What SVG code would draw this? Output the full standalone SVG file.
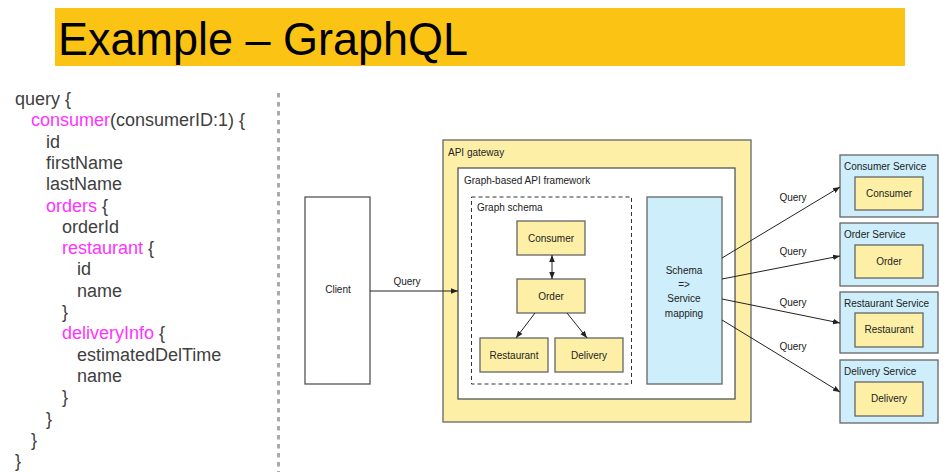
<svg xmlns="http://www.w3.org/2000/svg" width="947" height="472" viewBox="0 0 947 472">
<defs>
<marker id="ah" viewBox="0 0 10 10" refX="10" refY="5" markerWidth="7" markerHeight="7" orient="auto-start-reverse" markerUnits="userSpaceOnUse">
<path d="M0,1 L10,5 L0,9 z" fill="#222"/>
</marker>
</defs>
<style>
.code{font-family:"Liberation Sans",Arial,sans-serif;font-size:18px;fill:#404040}
.mg{fill:#ff33ff}
.lbl{font-family:"Liberation Sans",Arial,sans-serif;font-size:10px;fill:#222}
.c{text-anchor:middle}
.yel{fill:#fdf0a6;stroke:#666;stroke-width:1.3}
.blu{fill:#cdeefa;stroke:#666;stroke-width:1.3}
.wht{fill:#fff;stroke:#555;stroke-width:1.3}
.ln{stroke:#222;stroke-width:1;fill:none;marker-end:url(#ah)}
</style>
<rect width="947" height="472" fill="#fff"/>
<g id="title">
<rect x="55" y="8" width="850" height="58" fill="#fbc314"/>
<text x="58" y="55" font-family="'Liberation Sans',Arial,sans-serif" font-size="46" fill="#000" textLength="410" lengthAdjust="spacingAndGlyphs">Example – GraphQL</text>
</g>
<g id="code" class="code">
<text x="15" y="105">query {</text>
<text x="31" y="126.3"><tspan class="mg">consumer</tspan>(consumerID:1) {</text>
<text x="46" y="147.6">id</text>
<text x="46" y="168.9">firstName</text>
<text x="46" y="190.2">lastName</text>
<text x="46" y="211.5"><tspan class="mg">orders</tspan> {</text>
<text x="62" y="232.8">orderId</text>
<text x="62" y="254.1"><tspan class="mg">restaurant</tspan> {</text>
<text x="77" y="275.4">id</text>
<text x="77" y="296.7">name</text>
<text x="62" y="318">}</text>
<text x="62" y="339.3"><tspan class="mg">deliveryInfo</tspan> {</text>
<text x="77" y="360.6">estimatedDelTime</text>
<text x="77" y="381.9">name</text>
<text x="62" y="403.2">}</text>
<text x="46" y="424.5">}</text>
<text x="31" y="445.8">}</text>
<text x="15" y="467">}</text>
</g>
<line x1="278.5" y1="93" x2="278.5" y2="472" stroke="#aaa" stroke-width="3" stroke-dasharray="4.5 4.5"/>
<g id="client">
<rect x="305" y="197" width="65" height="187" class="wht"/>
<text x="338" y="293" class="lbl c">Client</text>
</g>
<g id="api-gateway">
<rect x="443" y="140" width="308" height="282" class="yel"/>
<text x="448" y="156" class="lbl">API gateway</text>
</g>
<g id="graph-framework">
<rect x="458" y="168" width="277" height="231" class="wht"/>
<text x="464" y="184" class="lbl">Graph-based API framework</text>
</g>
<g id="graph-schema">
<rect x="471.5" y="197" width="160" height="187" fill="none" stroke="#333" stroke-width="1" stroke-dasharray="4 3"/>
<text x="477" y="211" class="lbl">Graph schema</text>
</g>
<g id="schema-consumer">
<rect x="517" y="221" width="68" height="34" class="yel"/>
<text x="551" y="241.5" class="lbl c">Consumer</text>
</g>
<g id="schema-order">
<rect x="517" y="279" width="68" height="34" class="yel"/>
<text x="551" y="299.5" class="lbl c">Order</text>
</g>
<g id="schema-restaurant">
<rect x="480" y="338" width="68" height="34" class="yel"/>
<text x="514" y="358.5" class="lbl c">Restaurant</text>
</g>
<g id="schema-delivery">
<rect x="555" y="338" width="68" height="34" class="yel"/>
<text x="589" y="358.5" class="lbl c">Delivery</text>
</g>
<g id="mapping">
<rect x="647" y="197" width="75" height="187" class="blu"/>
<text x="684" y="274" class="lbl c">Schema</text>
<text x="684" y="288" class="lbl c">=&gt;</text>
<text x="684" y="302" class="lbl c">Service</text>
<text x="684" y="317" class="lbl c">mapping</text>
</g>
<g id="consumer-service">
<rect x="840" y="155" width="98" height="62" class="blu"/>
<text x="844" y="170" class="lbl">Consumer Service</text>
<rect x="855" y="177" width="68" height="33" class="yel"/>
<text x="889" y="197" class="lbl c">Consumer</text>
</g>
<g id="order-service">
<rect x="840" y="223" width="98" height="63" class="blu"/>
<text x="844" y="238" class="lbl">Order Service</text>
<rect x="855" y="245" width="68" height="33" class="yel"/>
<text x="889" y="265" class="lbl c">Order</text>
</g>
<g id="restaurant-service">
<rect x="840" y="292" width="98" height="61" class="blu"/>
<text x="844" y="307" class="lbl">Restaurant Service</text>
<rect x="855" y="313" width="68" height="34" class="yel"/>
<text x="889" y="333" class="lbl c">Restaurant</text>
</g>
<g id="delivery-service">
<rect x="840" y="360" width="98" height="63" class="blu"/>
<text x="844" y="375" class="lbl">Delivery Service</text>
<rect x="855" y="382" width="68" height="34" class="yel"/>
<text x="889" y="402" class="lbl c">Delivery</text>
</g>
<g id="connectors">
<line x1="370" y1="291" x2="458" y2="291" class="ln"/>
<text x="407" y="285" class="lbl c">Query</text>
<line x1="552" y1="255" x2="552" y2="279" class="ln" marker-start="url(#ah)"/>
<line x1="535" y1="313" x2="516" y2="338" class="ln"/>
<line x1="567" y1="313" x2="587" y2="338" class="ln"/>
<line x1="722" y1="258" x2="840" y2="187" class="ln"/>
<text x="793" y="201" class="lbl c">Query</text>
<line x1="722" y1="279" x2="840" y2="256" class="ln"/>
<text x="793" y="255" class="lbl c">Query</text>
<line x1="722" y1="299" x2="840" y2="323" class="ln"/>
<text x="793" y="306" class="lbl c">Query</text>
<line x1="722" y1="320" x2="840" y2="392" class="ln"/>
<text x="793" y="350" class="lbl c">Query</text>
</g>
</svg>
